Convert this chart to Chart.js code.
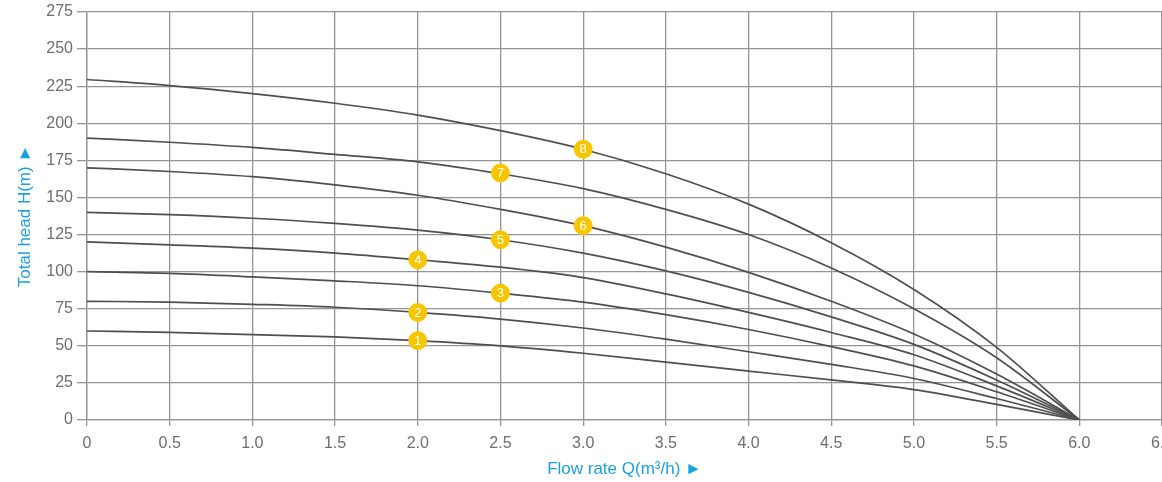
<!DOCTYPE html>
<html>
<head>
<meta charset="utf-8">
<script src="https://cdn.jsdelivr.net/npm/chart.js@4"></script>
<style>
  html, body { margin: 0; padding: 0; background: #fff; }
</style>
</head>
<body>
<canvas id="pump-curves" width="1162" height="482"></canvas>
<script>
// flow rate Q (m3/h) and head H (m) for each pump curve
const flowRates = [0, 0.5, 1, 1.5, 2, 2.5, 3, 3.5, 4, 4.5, 5, 5.5, 6]
const head1 = [60, 59, 57.5, 56, 53.5, 50, 45, 39, 33, 27, 20.5, 10.5, 0]
const head2 = [80, 79.5, 78, 76, 72.5, 68, 62, 54.5, 46, 37.5, 28, 14.5, 0]
const head3 = [100, 98.8, 96.5, 93.8, 90.5, 85.5, 79.5, 71, 61, 49.5, 36.5, 19, 0]
const head4 = [120, 118, 115.8, 112.5, 108, 103, 96, 85, 72.5, 59, 44, 23, 0]
const head5 = [140, 138.4, 136, 132.5, 128, 121.5, 112.5, 100.5, 86, 69.5, 51, 27, 0]
const head6 = [170, 167.5, 164, 158.5, 151.5, 142, 131, 116.5, 99.5, 80, 58, 31, 0]
const head7 = [190, 187.2, 183.7, 179, 174, 166, 156, 142, 125, 102.5, 75, 42, 0]
const head8 = [229.5, 225.4, 220, 213.5, 205.5, 195, 182.5, 166, 145.5, 119.5, 88, 49, 0]
const curves = [head1, head2, head3, head4, head5, head6, head7, head8]

// numbered markers sitting on the curves
const markerFlow = [2, 2, 2.5, 2, 2.5, 3, 2.5, 3]
const markerHead = [53.5, 72.5, 85.5, 108, 121.5, 131, 166.5, 182.5]
const markerLabels = ['1', '2', '3', '4', '5', '6', '7', '8']

const xTickLabels = ['0', '0.5', '1.0', '1.5', '2.0', '2.5', '3.0', '3.5', '4.0', '4.5', '5.0', '5.5', '6.0', '6.5']

const gridColor = '#959595'
const tickColor = '#6e6e6e'
const titleColor = '#1ba1e2'
const fontFamily = '"Liberation Sans", Arial, sans-serif'

const markerNumbers = {
  id: 'markerNumbers',
  afterDatasetsDraw (chart) {
    const meta = chart.getDatasetMeta(0)
    const ctx = chart.ctx
    ctx.save()
    ctx.fillStyle = '#ffffff'
    ctx.font = '13px ' + fontFamily
    ctx.textAlign = 'center'
    ctx.textBaseline = 'middle'
    meta.data.forEach((pt, i) => {
      ctx.fillText(markerLabels[i], pt.x, pt.y + 0.5)
    })
    ctx.restore()
  }
}

const datasets = [{
  type: 'scatter',
  data: markerFlow.map((x, i) => ({ x: x, y: markerHead[i] })),
  backgroundColor: '#f7c600',
  borderColor: '#f7c600',
  pointRadius: 9,
  order: 0
}]
for (let c of curves) {
  datasets.push({
    type: 'line',
    data: flowRates.map((x, i) => ({ x: x, y: c[i] })),
    borderColor: '#4f4f4f',
    borderWidth: 1.7,
    pointRadius: 0,
    cubicInterpolationMode: 'monotone',
    fill: false,
    order: 1
  })
}

const ctx = document.getElementById('pump-curves').getContext('2d')
const chart = new Chart(ctx, {
  data: { datasets: datasets },
  plugins: [markerNumbers],
  options: {
    responsive: false,
    animation: false,
    devicePixelRatio: 1,
    layout: { autoPadding: false, padding: { top: 12, right: 0, left: 0, bottom: 0 } },
    plugins: { legend: { display: false }, tooltip: { enabled: false } },
    scales: {
      x: {
        type: 'linear',
        min: 0,
        max: 6.5,
        afterFit (scale) {
          scale.height = 62
          scale.paddingLeft = 0
          scale.paddingRight = 0
        },
        ticks: {
          stepSize: 0.5,
          color: tickColor,
          padding: 8,
          maxRotation: 0,
          font: { family: fontFamily, size: 16 },
          callback: (value, index) => xTickLabels[index]
        },
        grid: { color: gridColor, lineWidth: 1.3, tickLength: 6 },
        border: { color: gridColor, width: 1.3 },
        title: {
          display: true,
          text: 'Flow rate Q(m³/h) ►',
          color: titleColor,
          padding: { top: 0, bottom: 2 },
          font: { family: fontFamily, size: 17 }
        }
      },
      y: {
        min: 0,
        max: 275,
        afterFit (scale) {
          scale.width = 87
          scale.paddingTop = 0
          scale.paddingBottom = 0
        },
        ticks: {
          stepSize: 25,
          color: tickColor,
          padding: 4,
          font: { family: fontFamily, size: 16 }
        },
        grid: { color: gridColor, lineWidth: 1.3, tickLength: 10 },
        border: { color: gridColor, width: 1.3 },
        title: {
          display: true,
          text: 'Total head H(m) ►',
          color: titleColor,
          padding: { top: 15, bottom: 0 },
          font: { family: fontFamily, size: 17 }
        }
      }
    }
  }
})
</script>
</body>
</html>
